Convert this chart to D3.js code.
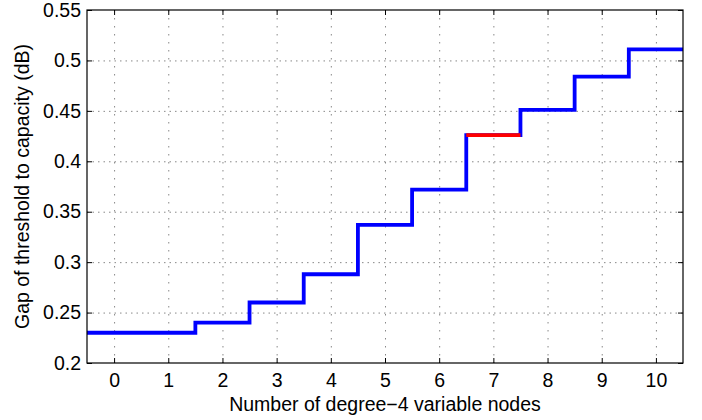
<!DOCTYPE html>
<html>
<head>
<meta charset="utf-8">
<script src="https://cdn.jsdelivr.net/npm/d3@7"></script>
<style>
  html, body { margin: 0; padding: 0; background: #fff; }
  svg { display: block; font-family: "Liberation Sans", Arial, Helvetica, sans-serif; }
</style>
</head>
<body>
<svg id="chart" width="702" height="420"></svg>
<script>
// ---- data ----
const nodes = [0, 1, 2, 3, 4, 5, 6, 7, 8, 9, 10];
const gap = [0.230, 0.230, 0.240, 0.260, 0.288, 0.337, 0.372, 0.426, 0.451, 0.484, 0.511];
const highlightIndex = 7;
const xTicks = [0, 1, 2, 3, 4, 5, 6, 7, 8, 9, 10];
const yTicks = [0.2, 0.25, 0.3, 0.35, 0.4, 0.45, 0.5, 0.55];
const yTickLabels = ["0.2", "0.25", "0.3", "0.35", "0.4", "0.45", "0.5", "0.55"];
const xLabel = "Number of degree\u22124 variable nodes";
const yLabel = "Gap of threshold to capacity (dB)";

// ---- layout ----
const svg = d3.select("#chart");
const L = 87, R = 683, T = 10, B = 363;
const x = d3.scaleLinear().domain([-0.5, 10.5]).range([L, R]);
const y = d3.scaleLinear().domain([0.2, 0.55]).range([B, T]);

// grid
const grid = svg.append("g");
grid.selectAll("line.vg").data(xTicks).enter().append("line")
  .attr("x1", d => x(d) + 0.5).attr("x2", d => x(d) + 0.5)
  .attr("y1", T).attr("y2", B)
  .attr("stroke", "#888").attr("stroke-width", 1)
  .attr("stroke-dasharray", "1.5,6.5");
grid.selectAll("line.hg").data(yTicks.slice(1, -1)).enter().append("line")
  .attr("x1", L).attr("x2", R)
  .attr("y1", d => y(d) + 0.5).attr("y2", d => y(d) + 0.5)
  .attr("stroke", "#888").attr("stroke-width", 1)
  .attr("stroke-dasharray", "1.5,4");

// axes with inward ticks
const tickLen = 5;
const xb = svg.append("g").attr("transform", `translate(0,${B})`)
  .call(d3.axisBottom(x).tickValues(xTicks).tickSizeInner(-tickLen).tickSizeOuter(0).tickPadding(10));
const xt = svg.append("g").attr("transform", `translate(0,${T})`)
  .call(d3.axisTop(x).tickValues(xTicks).tickSizeInner(-tickLen).tickSizeOuter(0).tickFormat(""));
const yl = svg.append("g").attr("transform", `translate(${L},0)`)
  .call(d3.axisLeft(y).tickValues(yTicks).tickSizeInner(-tickLen).tickSizeOuter(0).tickPadding(6)
    .tickFormat((d, i) => yTickLabels[i]));
const yr = svg.append("g").attr("transform", `translate(${R},0)`)
  .call(d3.axisRight(y).tickValues(yTicks).tickSizeInner(-tickLen).tickSizeOuter(0).tickFormat(""));
[xb, xt, yl, yr].forEach(g => {
  g.select(".domain").remove();
  g.selectAll(".tick line").attr("stroke", "#000").attr("stroke-width", 1);
  g.selectAll("text").attr("font-family", "\"Liberation Sans\", Arial, sans-serif")
    .attr("font-size", 19.5).attr("fill", "#000");
});

// data: step line
const pts = nodes.map((n, i) => [n - 0.5, gap[i]]);
pts.push([nodes[nodes.length - 1] + 0.5, gap[gap.length - 1]]);
const line = d3.line().x(d => x(d[0])).y(d => y(d[1])).curve(d3.curveStepAfter);
svg.append("path").datum(pts).attr("d", line)
  .attr("fill", "none").attr("stroke", "#0000ff").attr("stroke-width", 3.8)
  .attr("stroke-linejoin", "miter").attr("stroke-linecap", "butt");
const hp = [[nodes[highlightIndex] - 0.5, gap[highlightIndex]], [nodes[highlightIndex] + 0.5, gap[highlightIndex]]];
svg.append("path").datum(hp).attr("d", d3.line().x(d => x(d[0])).y(d => y(d[1])))
  .attr("fill", "none").attr("stroke", "#ff0000").attr("stroke-width", 3.8);

// box
svg.append("rect").attr("x", L).attr("y", T).attr("width", R - L).attr("height", B - T)
  .attr("fill", "none").attr("stroke", "#000").attr("stroke-width", 1.2);

// labels
svg.append("text").attr("x", (L + R) / 2).attr("y", 411).attr("text-anchor", "middle")
  .attr("font-size", 19.5).attr("fill", "#000").text(xLabel);
svg.append("text").attr("transform", `translate(29,${(T + B) / 2}) rotate(-90)`)
  .attr("text-anchor", "middle").attr("font-size", 19.5).attr("fill", "#000").text(yLabel);
</script>
</body>
</html>
